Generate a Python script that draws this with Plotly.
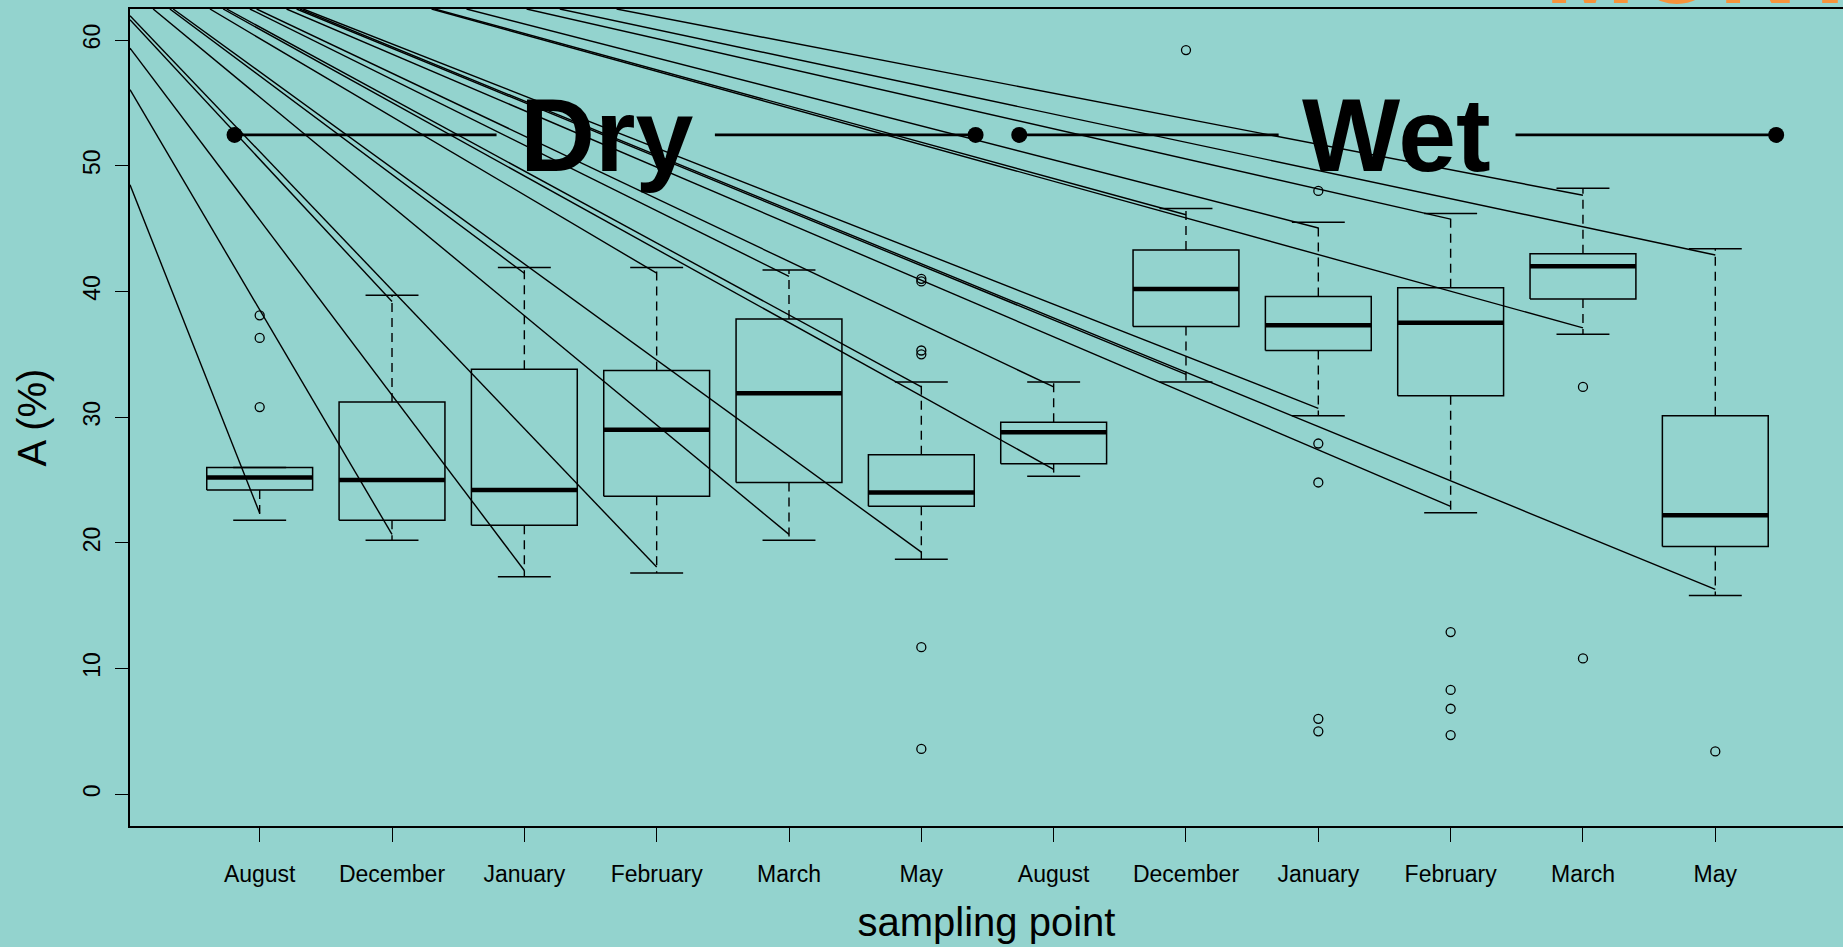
import plotly.graph_objects as go

# ---- box statistics per sampling point (Dry season, then Wet season) ----
months = ["August", "December", "January", "February", "March", "May",
          "August", "December", "January", "February", "March", "May"]
positions = list(range(1, 13))

lower_whisker = [21.8, 20.2, 17.3, 17.6, 20.2, 18.7, 25.3, 32.8, 30.1, 22.4, 36.6, 15.8]
q1 = [24.2, 21.8, 21.4, 23.7, 24.8, 22.9, 26.3, 37.2, 35.3, 31.7, 39.4, 19.7]
median = [25.2, 25.0, 24.2, 29.0, 31.9, 24.0, 28.8, 40.2, 37.3, 37.5, 42.0, 22.2]
q3 = [26.0, 31.2, 33.8, 33.7, 37.8, 27.0, 29.6, 43.3, 39.6, 40.3, 43.0, 30.1]
upper_whisker = [26.0, 39.7, 41.9, 41.9, 41.7, 32.8, 32.8, 46.6, 45.5, 46.2, 48.2, 43.4]

# outlying observations: sampling point index and value
outlier_pos = [1, 1, 1, 6, 6, 6, 6, 6, 6, 8, 9, 9, 9, 9, 9, 10, 10, 10, 10, 11, 11, 12]
outlier_val = [38.1, 36.3, 30.8, 41.0, 40.8, 35.3, 35.0, 11.7, 3.6, 59.2,
               48.0, 27.9, 24.8, 6.0, 5.0, 12.9, 8.3, 6.8, 4.7, 32.4, 10.8, 3.4]

# fan of guide rays: far point (x, y) and near point (sampling point, value)
ray_from_x = [0.02, 0.02, 0.02, 0.02, 0.02, 0.195, 0.321, 0.346, 0.624, 0.724, 0.750, 0.926,
              0.977, 1.203, 1.279, 1.304, 1.329, 2.299, 2.324, 2.563, 3.017, 3.268, 3.697]
ray_from_y = [48.49, 56.05, 59.36, 61.61, 61.93] + [62.47] * 18
ray_to_pos = [1, 2, 3, 2, 4, 5, 3, 6, 4, 7, 6, 5,
              7, 10, 8, 12, 9, 11, 8, 9, 10, 12, 11]
ray_to_val = [22.36, 20.67, 17.8, 39.2, 18.07, 20.67, 41.45, 19.26, 41.45, 25.85, 32.4, 41.2,
              32.4, 22.9, 33.4, 16.3, 30.7, 37.1, 46.1, 45.05, 45.75, 42.9, 47.65]

# season brackets
season_names = ["Dry", "Wet"]
season_label_x = [3.623, 9.593]
season_level = 52.45
bracket_x0 = [0.81, 4.44, 6.74, 10.49]
bracket_x1 = [2.79, 6.41, 8.70, 12.46]
bracket_dots = [0.81, 6.41, 6.74, 12.46]

BG = "#93D3CE"
FONT = "Liberation Sans, Arial, sans-serif"
BOX_HALF = 0.4
CAP_HALF = 0.2


def joined(segments):
    xs, ys = [], []
    for sx, sy in segments:
        xs += list(sx) + [None]
        ys += list(sy) + [None]
    return xs, ys


fig = go.Figure()

# rays
rx, ry = joined([([x0, p], [y0, v]) for x0, y0, p, v in
                 zip(ray_from_x, ray_from_y, ray_to_pos, ray_to_val)])
fig.add_trace(go.Scatter(x=rx, y=ry, mode="lines", line=dict(color="black", width=1.4),
                         hoverinfo="skip", showlegend=False))

# box outlines
bx, by = joined([([p - BOX_HALF, p + BOX_HALF, p + BOX_HALF, p - BOX_HALF, p - BOX_HALF],
                  [a, a, b, b, a]) for p, a, b in zip(positions, q1, q3)])
fig.add_trace(go.Scatter(x=bx, y=by, mode="lines", line=dict(color="black", width=1.5),
                         hoverinfo="skip", showlegend=False))

# whiskers (dashed)
wx, wy = joined([([p, p], [a, lo]) for p, a, lo in zip(positions, q1, lower_whisker)] +
                [([p, p], [b, hi]) for p, b, hi in zip(positions, q3, upper_whisker)])
fig.add_trace(go.Scatter(x=wx, y=wy, mode="lines",
                         line=dict(color="black", width=1.4, dash="9px,6px"),
                         hoverinfo="skip", showlegend=False))

# whisker caps
cx, cy = joined([([p - CAP_HALF, p + CAP_HALF], [w, w])
                 for p, w in zip(positions + positions, lower_whisker + upper_whisker)])
fig.add_trace(go.Scatter(x=cx, y=cy, mode="lines", line=dict(color="black", width=1.5),
                         hoverinfo="skip", showlegend=False))

# medians
mx, my = joined([([p - BOX_HALF, p + BOX_HALF], [m, m]) for p, m in zip(positions, median)])
fig.add_trace(go.Scatter(x=mx, y=my, mode="lines", line=dict(color="black", width=4.5),
                         hoverinfo="skip", showlegend=False))

# outliers
fig.add_trace(go.Scatter(x=outlier_pos, y=outlier_val, mode="markers",
                         marker=dict(symbol="circle-open", size=9, color="black",
                                     line=dict(width=1.3, color="black")),
                         hoverinfo="skip", showlegend=False))

# season brackets
lx, ly = joined([([a, b], [season_level, season_level]) for a, b in zip(bracket_x0, bracket_x1)])
fig.add_trace(go.Scatter(x=lx, y=ly, mode="lines", line=dict(color="black", width=2.7),
                         hoverinfo="skip", showlegend=False))
fig.add_trace(go.Scatter(x=bracket_dots, y=[season_level] * len(bracket_dots), mode="markers",
                         marker=dict(symbol="circle", size=16, color="black"),
                         hoverinfo="skip", showlegend=False))

for name, x in zip(season_names, season_label_x):
    fig.add_annotation(x=x, y=season_level, xref="x", yref="y", text="<b>%s</b>" % name,
                       showarrow=False, xanchor="center", yanchor="middle",
                       font=dict(family=FONT, size=104, color="black"))

# slide heading running off the top edge
fig.add_annotation(x=0.8249, y=1.0535, xref="paper", yref="paper", text="<b>MONTH</b>",
                   showarrow=False, xanchor="left", yanchor="middle",
                   font=dict(family=FONT, size=108, color="#F7923A"))

fig.update_layout(
    width=1843, height=947,
    margin=dict(l=130, r=0, t=9, b=121),
    paper_bgcolor=BG, plot_bgcolor=BG,
    font=dict(family=FONT, color="black"),
    showlegend=False,
    xaxis=dict(range=[0.02, 12.965], tickmode="array", tickvals=positions, ticktext=months,
               ticks="outside", ticklen=14, tickwidth=1.3, tickcolor="black",
               showline=True, linecolor="black", linewidth=1.5, mirror=True,
               showgrid=False, zeroline=False, tickfont=dict(size=23),
               ticklabelstandoff=13,
               title=dict(text="sampling point", font=dict(size=40), standoff=22)),
    yaxis=dict(range=[-2.53, 62.47], tickmode="array", tickvals=[0, 10, 20, 30, 40, 50, 60],
               ticks="outside", ticklen=13, tickwidth=1.3, tickcolor="black",
               showline=True, linecolor="black", linewidth=1.5, mirror=False,
               showgrid=False, zeroline=False, tickangle=-90, tickfont=dict(size=23),
               ticklabelstandoff=6,
               title=dict(text="A (%)", font=dict(size=40), standoff=20)),
)

fig.write_html("out.html")
